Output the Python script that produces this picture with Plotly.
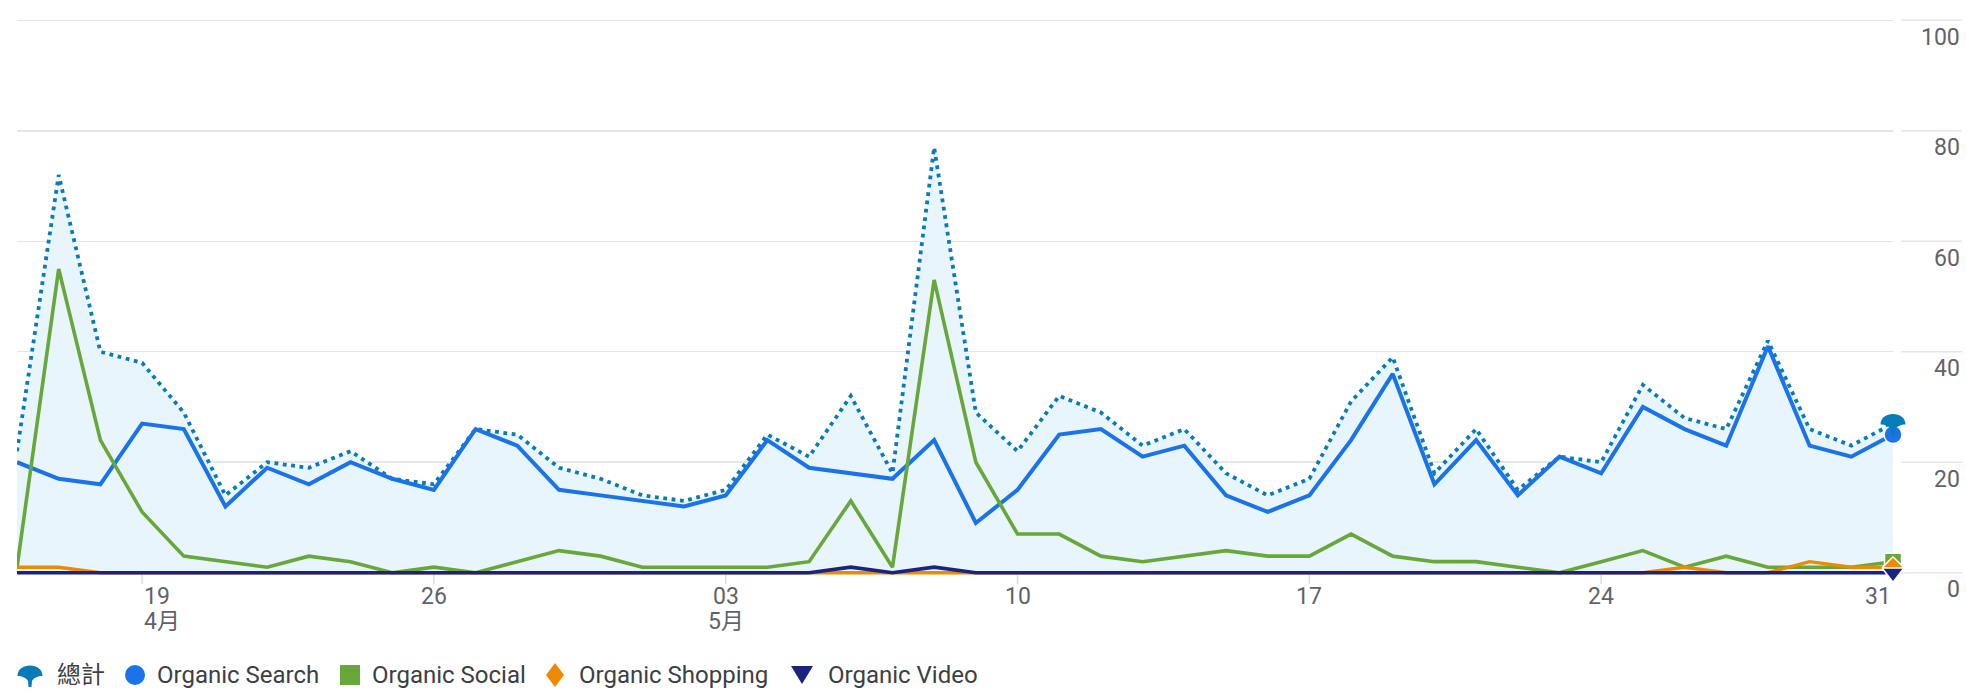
import plotly.graph_objects as go
import pandas as pd

# ---------------- data ----------------
dates = pd.date_range("2024-04-16", "2024-05-31", freq="D")

total = [22, 72, 40, 38, 29, 14, 20, 19, 22, 17, 16, 26, 25, 19, 17, 14, 13, 15, 25, 21,
         32, 18, 77, 29, 22, 32, 29, 23, 26, 18, 14, 17, 31, 39, 18, 26, 15, 21, 20, 34,
         28, 26, 42, 26, 23, 27]
search = [20, 17, 16, 27, 26, 12, 19, 16, 20, 17, 15, 26, 23, 15, 14, 13, 12, 14, 24, 19,
          18, 17, 24, 9, 15, 25, 26, 21, 23, 14, 11, 14, 24, 36, 16, 24, 14, 21, 18, 30,
          26, 23, 41, 23, 21, 25]
social = [1, 55, 24, 11, 3, 2, 1, 3, 2, 0, 1, 0, 2, 4, 3, 1, 1, 1, 1, 2,
          13, 1, 53, 20, 7, 7, 3, 2, 3, 4, 3, 3, 7, 3, 2, 2, 1, 0, 2, 4,
          1, 3, 1, 1, 1, 2]
shopping = [1, 1, 0, 0, 0, 0, 0, 0, 0, 0, 0, 0, 0, 0, 0, 0, 0, 0, 0, 0,
            0, 0, 0, 0, 0, 0, 0, 0, 0, 0, 0, 0, 0, 0, 0, 0, 0, 0, 0, 0,
            1, 0, 0, 2, 1, 1]
video = [0, 0, 0, 0, 0, 0, 0, 0, 0, 0, 0, 0, 0, 0, 0, 0, 0, 0, 0, 0,
         1, 0, 1, 0, 0, 0, 0, 0, 0, 0, 0, 0, 0, 0, 0, 0, 0, 0, 0, 0,
         0, 0, 0, 0, 0, 0]

series_names = ["總計", "Organic Search", "Organic Social", "Organic Shopping", "Organic Video"]

tick_dates = ["2024-04-19", "2024-04-26", "2024-05-03", "2024-05-10",
              "2024-05-17", "2024-05-24", "2024-05-31"]
tick_days = ["19", "26", "03", "10", "17", "24", "31"]
tick_months = ["4月", "", "5月", "", "", "", ""]
y_ticks = [0, 20, 40, 60, 80, 100]

# ---------------- style ----------------
W, H = 1966, 694
ML, MR, MT, MB = 17, 73, 12, 113
YMIN, YMAX = -1.5, 101.5
PW, PH = W - ML - MR, H - MT - MB

C_TOTAL = "#077cb8"
C_FILL = "#e9f5fd"
C_SEARCH = "#1a73e8"
C_SOCIAL = "#68a73a"
C_SHOP = "#ee8a00"
C_VIDEO = "#1a237e"
C_GRID = "#e6e6e6"
C_TICK = "#5f6368"
C_LEG = "#3c4043"
FONT = "Roboto, 'Noto Sans CJK TC', sans-serif"


def py(pixel_y):
    """paper y-fraction for a pixel row of the page"""
    return (H - MB - pixel_y) / PH


def px(pixel_x):
    return (pixel_x - ML) / PW


y0_px = MT + (YMAX - 0) / (YMAX - YMIN) * PH  # pixel row of value 0

FAN = ("M -12.5,-1 C -12.5,6 -6.5,9.5 0,9.5 C 6.5,9.5 12.5,6 12.5,-1 "
       "C 8,-1 3.5,-3 2,-6 L 1.5,-12 L -1.5,-12 L -2,-6 C -3.5,-3 -8,-1 -12.5,-1 Z")

fig = go.Figure()

# total with area fill
fig.add_trace(go.Scatter(x=dates, y=total, name=series_names[0], mode="lines",
                         line=dict(color=C_TOTAL, width=3.8, dash="3.8px,4.6px"),
                         fill="tozeroy", fillcolor=C_FILL, showlegend=False, hoverinfo="skip"))

line_specs = [
    (search, series_names[1], C_SEARCH, 4, "circle", 18),
    (social, series_names[2], C_SOCIAL, 3.6, "square", 17),
    (shopping, series_names[3], C_SHOP, 3.4, "diamond", 16),
    (video, series_names[4], C_VIDEO, 3.6, "triangle-down", 19),
]
for vals, name, col, w, _, _ in line_specs:
    fig.add_trace(go.Scatter(x=dates, y=vals, name=name, mode="lines",
                             line=dict(color=col, width=w), showlegend=False,
                             hoverinfo="skip"))
# end markers
for vals, name, col, w, sym, size in line_specs:
    fig.add_trace(go.Scatter(x=[dates[-1]], y=[vals[-1]], mode="markers",
                             marker=dict(symbol=sym, size=size, color=col,
                                         line=dict(color="white", width=1.5)),
                             cliponaxis=False, showlegend=False, hoverinfo="skip"))

shapes = []
annotations = []

# total end marker (custom fan glyph)
x_last_frac = (dates[-1] - dates[0]) / (dates[-1] - dates[0])
shapes.append(dict(type="path", path=FAN, xref="paper", yref="y",
                   xsizemode="pixel", ysizemode="pixel",
                   xanchor=x_last_frac, yanchor=total[-1],
                   fillcolor=C_TOTAL, line=dict(width=0), layer="above"))

# right-side y labels + gridline stubs
for v in y_ticks:
    shapes.append(dict(type="line", xref="paper", yref="y", xsizemode="pixel",
                       xanchor=1, x0=8, x1=69, y0=v, y1=v,
                       line=dict(color=C_GRID, width=1.5), layer="below"))
    annotations.append(dict(text=str(v), xref="paper", x=1, xshift=69, xanchor="right",
                            yref="y", y=v, yshift=-17, yanchor="middle", showarrow=False,
                            font=dict(family=FONT, size=23, color=C_TICK)))

# x ticks and labels
for i, (d, day, mon) in enumerate(zip(tick_dates, tick_days, tick_months)):
    anchor = "left" if i == 0 else ("right" if i == len(tick_dates) - 1 else "center")
    shapes.append(dict(type="line", xref="x", x0=d, x1=d, yref="paper",
                       ysizemode="pixel", yanchor=py(y0_px), y0=-2, y1=-11,
                       line=dict(color="#dadce0", width=1.5), layer="below"))
    annotations.append(dict(text=day, xref="x", x=d, xanchor=anchor,
                            yref="paper", y=py(596), yanchor="middle", showarrow=False,
                            font=dict(family=FONT, size=23, color=C_TICK)))
    if mon:
        annotations.append(dict(text=mon, xref="x", x=d, xanchor=anchor,
                                yref="paper", y=py(621), yanchor="middle", showarrow=False,
                                font=dict(family=FONT, size=23, color=C_TICK)))

# custom legend
LEG_Y = 675
leg_icons = [30, 135, 350, 555, 802]
leg_text = [55, 155, 370, 577, 826]
ly = py(LEG_Y)
# 總計
shapes.append(dict(type="path", path=FAN, xref="paper", yref="paper",
                   xsizemode="pixel", ysizemode="pixel", xanchor=px(leg_icons[0]),
                   yanchor=ly, fillcolor=C_TOTAL, line=dict(width=0)))
# Organic Search circle
shapes.append(dict(type="circle", xref="paper", yref="paper", xsizemode="pixel",
                   ysizemode="pixel", xanchor=px(leg_icons[1]), yanchor=ly,
                   x0=-10, x1=10, y0=-10, y1=10, fillcolor=C_SEARCH, line=dict(width=0)))
# Organic Social square
shapes.append(dict(type="rect", xref="paper", yref="paper", xsizemode="pixel",
                   ysizemode="pixel", xanchor=px(leg_icons[2]), yanchor=ly,
                   x0=-10, x1=10, y0=-10, y1=10, fillcolor=C_SOCIAL, line=dict(width=0)))
# Organic Shopping diamond
shapes.append(dict(type="path", path="M 0,12 L 9,0 L 0,-12 L -9,0 Z", xref="paper",
                   yref="paper", xsizemode="pixel", ysizemode="pixel",
                   xanchor=px(leg_icons[3]), yanchor=ly, fillcolor=C_SHOP, line=dict(width=0)))
# Organic Video triangle-down
shapes.append(dict(type="path", path="M -11,9 L 11,9 L 0,-9 Z", xref="paper",
                   yref="paper", xsizemode="pixel", ysizemode="pixel",
                   xanchor=px(leg_icons[4]), yanchor=ly, fillcolor=C_VIDEO, line=dict(width=0)))
for name, tx in zip(series_names, leg_text):
    annotations.append(dict(text=name, xref="paper", x=px(tx), xanchor="left",
                            yref="paper", y=ly, yanchor="middle", showarrow=False,
                            font=dict(family=FONT, size=24, color=C_LEG)))

fig.update_layout(
    width=W, height=H,
    margin=dict(l=ML, r=MR, t=MT, b=MB, pad=0),
    paper_bgcolor="white", plot_bgcolor="white",
    showlegend=False,
    xaxis=dict(type="date", range=[dates[0], dates[-1]], showgrid=False,
               zeroline=False, showline=False, showticklabels=False, ticks="",
               automargin=False, fixedrange=True),
    yaxis=dict(range=[YMIN, YMAX], tickvals=y_ticks, showgrid=True, gridcolor=C_GRID,
               gridwidth=1.5, zeroline=False, showline=False, showticklabels=False,
               ticks="", automargin=False, fixedrange=True),
    shapes=shapes, annotations=annotations,
    font=dict(family=FONT),
)

fig.write_html("out.html", config={"displayModeBar": False, "staticPlot": True},
               post_script="document.body.style.margin='0';document.body.style.overflow='hidden';")
